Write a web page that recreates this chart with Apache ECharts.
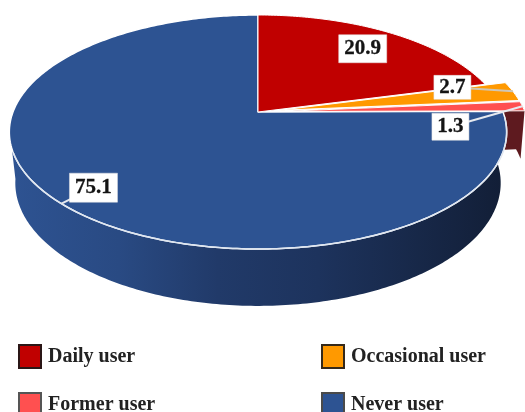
<!DOCTYPE html>
<html><head><meta charset="utf-8">
<style>html,body{margin:0;padding:0;background:#fff;overflow:hidden}#c{width:525px;height:412px}</style>
<script src="https://cdn.jsdelivr.net/npm/echarts@6/dist/echarts.min.js"></script>
</head><body><div id="c"></div>
<script>
const categories = ['Daily user', 'Occasional user', 'Former user', 'Never user'];
const values = [20.9, 2.7, 1.3, 75.1];
const valueLabels = ['20.9', '2.7', '1.3', '75.1'];

const colors = ['#c00000', '#ff9900', '#ff5050', '#2d5392'];
const sideColors = ['#7a0000', '#a86400', '#5e1a1f', '#223c6b'];
const legendBorders = ['#2a1616', '#35291a', '#555555', '#4a4a4a'];
const exploded = [0, 0.09, 0.09, 0];
const labelOffsets = [[-27, 16], [-60.5, -4], [-72, 20.5], [32, -16]];
const labelSizes = [[48, 28], [37, 24], [37, 27], [48, 29]];
const leaders = [false, true, true, true];
const legendPos = [[17, 344], [320, 344], [17, 392], [320, 392]];

const FONT = '"Liberation Serif"';
const CX = 258, CY = 112, A = 245, B = 113.6, K = 0.171;
const total = values.reduce((a, b) => a + b, 0);
let acc = 0;
const ranges = values.map(v => { const s = acc; acc += v; return [s / total * 2 * Math.PI, acc / total * 2 * Math.PI]; });

function project(u, v) { const w = 1 + K * v; return [CX + A * u / w, CY - B * v / w]; }
function lower(p) { return [CX + 0.976 * (p[0] - CX), 162 + 1.05 * (p[1] - CY)]; }
function lowerFormer(p) { return [CX + 0.985 * (p[0] - CX), 160 + 1.05 * (p[1] - CY)]; }
function rim(i, th, r) {
  const m = (ranges[i][0] + ranges[i][1]) / 2, d = exploded[i];
  const R = r === undefined ? 1 : r;
  return project(d * Math.sin(m) + R * Math.sin(th), d * Math.cos(m) + R * Math.cos(th));
}
function arc(i, a0, a1) {
  const n = Math.max(2, Math.ceil(Math.abs(a1 - a0) / 0.015)), pts = [];
  for (let k = 0; k <= n; k++) pts.push(rim(i, a0 + (a1 - a0) * k / n));
  return pts;
}
function renderSlice(i) {
  const [a0, a1] = ranges[i], apex = rim(i, a0, 0), kids = [];
  const outer = arc(i, a0, a1);
  if (i === 3) {
    const frontEnd = Math.min(a1, 262 / 180 * Math.PI);
    const t = arc(i, a0, frontEnd);
    kids.push({ type: 'polygon', z2: 2, shape: { points: t.concat(t.map(lower).reverse()) },
      style: { fill: new echarts.graphic.LinearGradient(0, 0, 1, 0, [
        { offset: 0, color: '#2e5392' }, { offset: 0.22, color: '#294a83' }, { offset: 0.42, color: '#213a69' },
        { offset: 0.62, color: '#1d335d' }, { offset: 1, color: '#121e36' }]) } });
    kids.push({ type: 'polyline', z2: 5, shape: { points: arc(i, a0 + 0.05, 250 / 180 * Math.PI) },
      style: { fill: null, stroke: '#dfe6f0', lineWidth: 1.5 } });
  } else if (i === 2) {
    const t = [apex].concat(outer);
    kids.push({ type: 'polygon', z2: 1, shape: { points: t.concat(t.map(lowerFormer).reverse()) },
      style: { fill: sideColors[i] } });
  }
  kids.push({ type: 'polygon', z2: i === 3 ? 3 : 4, shape: { points: [apex].concat(outer) },
    style: { fill: colors[i], stroke: '#ffffff', lineWidth: i === 3 ? 1.5 : 1, lineJoin: 'round' } });
  const m = (a0 + a1) / 2, anchor = rim(i, m), c = [anchor[0] + labelOffsets[i][0], anchor[1] + labelOffsets[i][1]];
  const sz = labelSizes[i];
  if (leaders[i]) kids.push({ type: 'line', z2: 8, shape: { x1: c[0], y1: c[1], x2: anchor[0], y2: anchor[1] },
    style: { stroke: i === 1 ? '#cfc6b4' : '#e6e9ef', lineWidth: 2 } });
  kids.push({ type: 'rect', z2: 9, shape: { x: c[0] - sz[0] / 2, y: c[1] - sz[1] / 2, width: sz[0], height: sz[1] },
    style: { fill: '#ffffff', stroke: '#e4e4e4', lineWidth: 0.5 } });
  kids.push({ type: 'text', z2: 10, x: c[0], y: c[1], style: { text: valueLabels[i], fill: '#141414',
    stroke: '#141414', lineWidth: 0.3, font: 'bold 21px ' + FONT, align: 'center', verticalAlign: 'middle' } });
  return { type: 'group', children: kids };
}

const chart = echarts.init(document.getElementById('c'), null, { renderer: 'canvas' });
chart.setOption({
  animation: false,
  backgroundColor: '#ffffff',
  legend: categories.map((name, i) => ({
    data: [name], left: legendPos[i][0] + 1, top: legendPos[i][1], padding: 0, selectedMode: false,
    icon: 'rect', itemWidth: 22, itemHeight: 23,
    itemStyle: { borderColor: legendBorders[i], borderWidth: 2 },
    textStyle: { fontFamily: FONT, fontWeight: 'bold', fontSize: 20, color: '#222222', padding: [3, 0, 0, 2] }
  })),
  series: categories.map((name, i) => ({
    type: 'custom', name, coordinateSystem: 'none', silent: true,
    itemStyle: { color: colors[i] },
    data: [values[i]],
    renderItem: () => renderSlice(i)
  }))
});
</script></body></html>
